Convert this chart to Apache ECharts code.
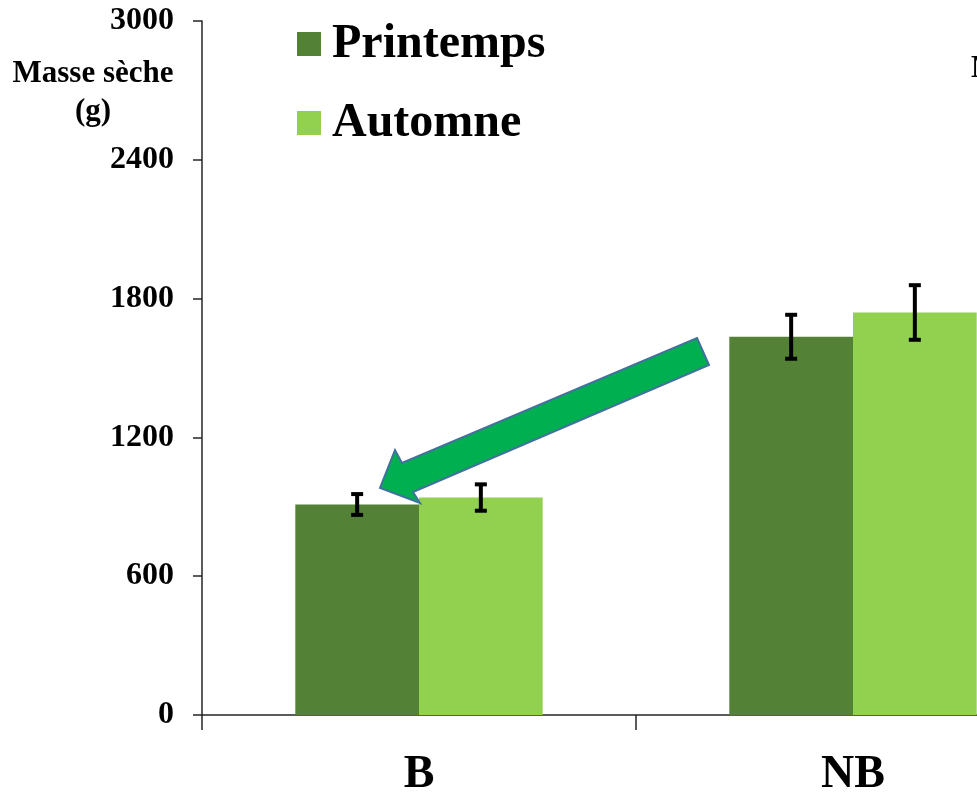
<!DOCTYPE html>
<html>
<head>
<meta charset="utf-8">
<script src="https://cdn.jsdelivr.net/npm/echarts@6/dist/echarts.min.js"></script>
<style>
html,body{margin:0;padding:0;background:#fff;overflow:hidden;}
#chart{width:977px;height:792px;}
</style>
</head>
<body>
<div id="chart"></div>
<script>
const categories = ['B', 'NB'];
const seriesNames = ['Printemps', 'Automne'];
const printemps = [910, 1635];
const automne = [940, 1740];
const printempsErr = [45, 95];
const automneErr = [57, 118];
const yTicks = { min: 0, max: 3000, interval: 600 };

const FONT = "'Liberation Serif', 'Times New Roman', serif";
const colors = ['#538135', '#92D050'];
const CAT_GAP = 0.43;

function errorSeries(name, values, errs, side) {
  return {
    type: 'custom',
    name: name + '_err',
    z: 5,
    silent: true,
    data: values.map((v, i) => [i, v, errs[i]]),
    renderItem: function (params, api) {
      const ci = api.value(0), v = api.value(1), e = api.value(2);
      const band = api.size([1, 0])[0];
      const off = side * band * (1 - CAT_GAP) / 4;
      const top = api.coord([ci, v + e]);
      const bot = api.coord([ci, v - e]);
      const x = top[0] + off;
      const cw = 6;
      const st = { stroke: '#000', lineWidth: 4 };
      return {
        type: 'group',
        children: [
          { type: 'line', shape: { x1: x, y1: top[1], x2: x, y2: bot[1] }, style: st },
          { type: 'line', shape: { x1: x - cw, y1: top[1], x2: x + cw, y2: top[1] }, style: st },
          { type: 'line', shape: { x1: x - cw, y1: bot[1], x2: x + cw, y2: bot[1] }, style: st }
        ]
      };
    }
  };
}

const chart = echarts.init(document.getElementById('chart'), null, { renderer: 'canvas' });
chart.setOption({
  animation: false,
  backgroundColor: '#fff',
  grid: { left: 202, top: 21, width: 868, height: 694, containLabel: false, outerBoundsMode: 'none' },
  legend: {
    data: seriesNames,
    orient: 'vertical',
    left: 297,
    top: 21,
    padding: 0,
    itemWidth: 24,
    itemHeight: 24,
    itemGap: 31,
    icon: 'rect',
    selectedMode: false,
    formatter: '{a|{name}}',
    textStyle: {
      fontFamily: FONT, fontWeight: 'bold', fontSize: 48, color: '#000', padding: [0, 0, 0, 6],
      rich: { a: { fontFamily: FONT, fontWeight: 'bold', fontSize: 48, color: '#000', padding: [2, 0, 0, 0] } }
    }
  },
  xAxis: {
    type: 'category',
    data: categories,
    axisLine: { lineStyle: { color: '#262626', width: 1.5 } },
    axisTick: { show: true, length: 15, lineStyle: { color: '#262626', width: 1.5 } },
    axisLabel: { fontFamily: FONT, fontWeight: 'bold', fontSize: 46, color: '#000', margin: 37 },
    splitLine: { show: false }
  },
  yAxis: {
    type: 'value',
    min: yTicks.min,
    max: yTicks.max,
    interval: yTicks.interval,
    axisLine: { show: true, lineStyle: { color: '#262626', width: 1.5 } },
    axisTick: { show: true, length: 9, lineStyle: { color: '#262626', width: 1.5 } },
    axisLabel: { fontFamily: FONT, fontWeight: 'bold', fontSize: 32, color: '#000', margin: 28, formatter: v => String(v) },
    splitLine: { show: false }
  },
  series: [
    { name: seriesNames[0], type: 'bar', data: printemps, barGap: '0%', barCategoryGap: (CAT_GAP * 100) + '%', itemStyle: { color: colors[0] } },
    { name: seriesNames[1], type: 'bar', data: automne, barGap: '0%', barCategoryGap: (CAT_GAP * 100) + '%', itemStyle: { color: colors[1] } },
    errorSeries(seriesNames[0], printemps, printempsErr, -1),
    errorSeries(seriesNames[1], automne, automneErr, 1)
  ],
  graphic: [
    { type: 'text', left: 10, top: 55, style: { text: 'Masse sèche\n(g)', font: 'bold 31px ' + FONT, fill: '#000', textAlign: 'center', lineHeight: 38, width: 166 } },
    { type: 'text', left: 971, top: 53, style: { text: 'Masse sèche', font: 'bold 31px ' + FONT, fill: '#000' } },
    {
      type: 'polygon', z: 10,
      shape: { points: [[697, 338], [709, 365], [413, 492], [420, 503], [380, 488], [395, 450], [402, 463]] },
      style: { fill: '#00B050', stroke: '#41719C', lineWidth: 2 }
    }
  ]
});
</script>
</body>
</html>
